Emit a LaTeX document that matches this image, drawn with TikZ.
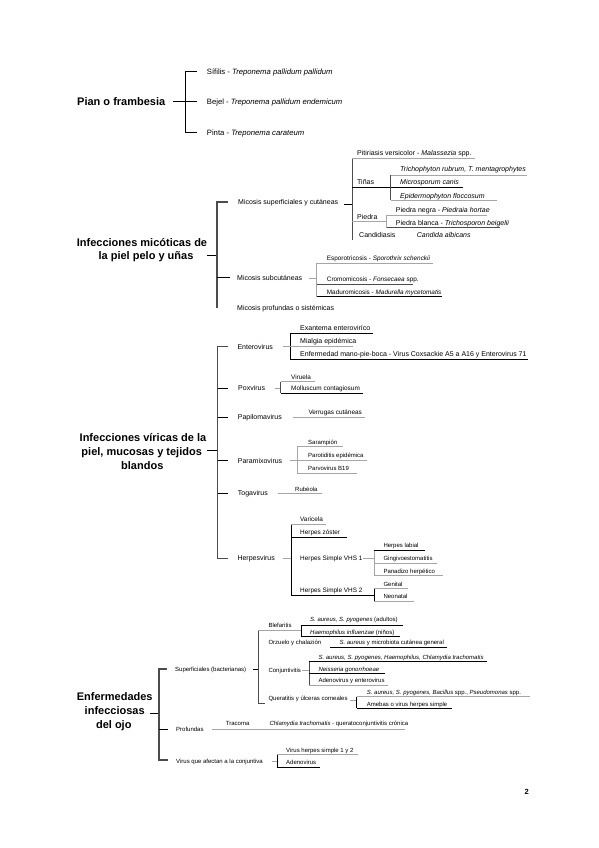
\documentclass[tikz,border=0pt]{standalone}
\usepackage{fontspec}
\setmainfont{Liberation Sans}
\begin{document}
\begin{tikzpicture}[x=1pt,y=-1pt]
\tikzset{
 ttl/.style={inner sep=0pt, anchor=base, font=\bfseries\fontsize{11}{13}\selectfont},
 ta/.style={inner sep=0pt, anchor=base west, font=\fontsize{7.7}{9}\selectfont},
 tb/.style={inner sep=0pt, anchor=base west, font=\fontsize{7.0}{8}\selectfont},
 tc/.style={inner sep=0pt, anchor=base west, font=\fontsize{6.4}{8}\selectfont},
 td/.style={inner sep=0pt, anchor=base west, font=\fontsize{6.0}{7}\selectfont},
 bar/.style={draw=black!70, line width=1.1pt},
 dk/.style={draw=black, line width=0.9pt},
 md/.style={draw=black!70, line width=0.6pt},
 lt/.style={draw=black!35, line width=0.5pt}
}
\fill[white] (0,0) rectangle (599,848);
\useasboundingbox (0,0) rectangle (599,848);

% ---------------- Pian
\node[ttl, anchor=base west] (pian) at (77,105.7) {Pian o frambesia};
\draw[dk] (173,101.7) -- (196.7,101.7);
\draw[dk] (196.7,71.7) -- (185.7,71.7) -- (185.7,132.7) -- (196.7,132.7);
\node[ta] (sif) at (206.7,74.4) {Sífilis - \textit{Treponema pallidum pallidum}};
\node[ta] (bej) at (206.7,104.4) {Bejel - \textit{Treponema pallidum endemicum}};
\node[ta] (pin) at (206.7,135.4) {Pinta - \textit{Treponema carateum}};

% ---------------- Micoticas
\node[ttl] (mic1) at (142,246.5) {Infecciones micóticas de};
\node[ttl] (mic2) at (146,259.5) {la piel pelo y uñas};
\draw[dk] (207,255) -- (217,255);
\draw[bar] (228,202) -- (217,202) -- (217,307.5);
\draw[dk] (217,277.5) -- (230,277.5);
\node[tb] (msup) at (238,204.4) {Micosis superficiales y cutáneas};
\draw[dk] (344,204) -- (352,204);
\draw[md] (352,158) -- (352,240);
\draw[lt] (352,158) -- (475,158);
\node[tb] (pit) at (357,155.5) {Pitiriasis versicolor - \textit{Malassezia} spp.};
\node[tb] (tin) at (357,184.2) {Tiñas};
\draw[dk] (352,187.7) -- (463,187.7);
\draw[md] (390.7,175) -- (390.7,200);
\node[tb] (tri) at (400,171) {\textit{Trichophyton rubrum, T. mentagrophytes}};
\draw[lt] (390.7,175) -- (526.7,175);
\node[tb] (msp) at (400,184.8) {\textit{Microsporum canis}};
\node[tb] (epi) at (400,198) {\textit{Epidermophyton floccosum}};
\draw[lt] (390.7,200) -- (497,200);
\node[tb] (pie) at (357,219) {Piedra};
\draw[lt] (352,221.5) -- (386.7,221.5);
\draw[lt] (386.7,215) -- (386.7,227.7);
\node[tb] (pneg) at (395.7,212.5) {Piedra negra - \textit{Piedraia hortae}};
\draw[lt] (386.7,215) -- (486.7,215);
\node[tb] (pbla) at (395.7,225.2) {Piedra blanca - \textit{Trichosporon beigelii}};
\draw[md] (386.7,227.7) -- (500,227.7);
\node[tb] (can) at (359,237.5) {Candidiasis};
\node[tb] (cal) at (416.7,237.5) {\textit{Candida albicans}};
\node[tb] (msub) at (237,280) {Micosis subcutáneas};
\draw[lt] (309,278) -- (316.7,278);
\draw[lt] (316.7,263.3) -- (316.7,296.7);
\node[tc] (esp) at (326.7,260.8) {Esporotricosis - \textit{Sporothrix schenckii}};
\draw[lt] (316.7,263.3) -- (433.3,263.3);
\node[tc] (cro) at (326.7,281.4) {Cromomicosis - \textit{Fonsecaea} spp.};
\draw[md] (316.7,284) -- (413,284);
\node[tc] (mad) at (326.7,294) {Maduromicosis - \textit{Madurella mycetomatis}};
\draw[dk] (316.7,296.7) -- (441.7,296.7);
\node[tb] (mpro) at (237,310.5) {Micosis profundas o sistémicas};

% ---------------- Viricas
\node[ttl] (vir1) at (143,441.7) {Infecciones víricas de la};
\node[ttl] (vir2) at (141.7,455.5) {piel, mucosas y tejidos};
\node[ttl] (vir3) at (142.3,469.3) {blandos};
\draw[dk] (206.7,450) -- (217.7,450);
\draw[bar] (228.3,346.7) -- (217.7,346.7) -- (217.7,558.3) -- (228.3,558.3);
\foreach \yy in {388.3,417,460.5,493.3} \draw[dk] (217.7,\yy) -- (228.3,\yy);
% Enterovirus
\node[tb] (ent) at (237.3,349.2) {Enterovirus};
\draw[lt] (283,346.7) -- (290,346.7);
\draw[dk] (290,333.3) -- (290,359);
\node[tb] (exa) at (300,330.2) {Exantema enteroviríco};
\draw[dk] (290,333.3) -- (373.3,333.3);
\node[tb] (mia) at (300,343) {Mialgia epidémica};
\draw[lt] (290,346.7) -- (353.3,346.7);
\node[tb] (mpb) at (300,356.5) {Enfermedad mano-pie-boca - Virus Coxsackie A5 a A16 y Enterovirus 71};
\draw[dk] (290,359) -- (528.3,359);
% Poxvirus
\node[tb] (pox) at (238,390.8) {Poxvirus};
\draw[lt] (275,388.3) -- (280.7,388.3);
\draw[md] (280.7,381.7) -- (280.7,393.3);
\node[tc] (vrl) at (291,379) {Viruela};
\draw[lt] (280.7,381.7) -- (315,381.7);
\node[tc] (mol) at (291,390.6) {Molluscum contagiosum};
\draw[dk] (280.7,393.3) -- (363.3,393.3);
% Papilomavirus
\node[tb] (pap) at (237.7,419.5) {Papilomavirus};
\draw[lt] (293.3,417.3) -- (365,417.3);
\node[tc] (ver) at (308.3,414.6) {Verrugas cutáneas};
% Paramixovirus
\node[tb] (par) at (237.7,463) {Paramixovirus};
\draw[lt] (290,460.5) -- (297.3,460.5);
\draw[lt] (297.3,446.7) -- (297.3,473.3);
\node[td] (sar) at (308,444.6) {Sarampión};
\draw[lt] (297.3,446.7) -- (343.3,446.7);
\node[td] (pep) at (308,457.6) {Parotiditis epidémica};
\draw[lt] (297.3,460.5) -- (366.7,460.5);
\node[td] (pvb) at (308,470.6) {Parvovirus B19};
\draw[lt] (297.3,473.3) -- (356.7,473.3);
% Togavirus
\node[tb] (tog) at (237.7,495.8) {Togavirus};
\draw[lt] (278.3,493.3) -- (321.7,493.3);
\node[td] (rub) at (295,491) {Rubéola};
% Herpesvirus
\node[tb] (her) at (237.3,560.8) {Herpesvirus};
\draw[lt] (283,558.3) -- (291,558.3);
\draw[dk] (291,524) -- (291,595) -- (374,595);
\node[tc] (var) at (300,521.3) {Varicela};
\draw[lt] (291,524) -- (326,524);
\node[tc] (hzo) at (300,534.6) {Herpes zóster};
\draw[dk] (291,537.3) -- (346.7,537.3);
\node[tc] (vh1) at (300,560.6) {Herpes Simple VHS 1};
\draw[lt] (363,558.3) -- (374,558.3);
\draw[lt] (374,550) -- (374,575.7);
\node[td] (hla) at (383.3,547.4) {Herpes labial};
\draw[dk] (374,550) -- (425,550);
\node[td] (gin) at (383.3,560.6) {Gingivoestomatitis};
\draw[lt] (374,563.3) -- (437,563.3);
\node[td] (pan) at (383.3,573.2) {Panadizo herpético};
\draw[lt] (374,575.7) -- (443.3,575.7);
\node[tc] (vh2) at (300,592.4) {Herpes Simple VHS 2};
\draw[dk] (374,588.3) -- (374,601);
\node[td] (gen) at (383.3,586) {Genital};
\draw[lt] (374,588.3) -- (408.3,588.3);
\node[td] (neo) at (383.3,598.4) {Neonatal};
\draw[lt] (374,601) -- (414,601);

% ---------------- Ojo
\node[ttl] (ojo1) at (114.7,700.7) {Enfermedades};
\node[ttl] (ojo2) at (114.7,714.7) {infecciosas};
\node[ttl] (ojo3) at (113.8,728.5) {del ojo};
\draw[dk] (150,713.3) -- (159,713.3);
\draw[bar] (166.7,669) -- (159,669) -- (159,760) -- (168,760);
\draw[dk] (159,729) -- (168,729);
\node[td] (sup) at (175,671.2) {Superficiales (bacterianas)};
\draw[dk] (253,669) -- (258.3,669);
\draw[md] (258.3,630) -- (258.3,703.3) -- (265,703.3);
% Blefaritis
\node[td] (ble) at (268.3,627.2) {Blefaritis};
\draw[lt] (258.3,630) -- (301.7,630);
\draw[dk] (301.7,625) -- (301.7,636.7);
\node[td] (bl1) at (310,621.6) {\textit{S. aureus, S. pyogenes} (adultos)};
\draw[dk] (301.7,625) -- (403.3,625);
\node[td] (bl2) at (310,634) {\textit{Haemophilus influenzae} (niños)};
\draw[dk] (301.7,636.7) -- (400,636.7);
% Orzuelo
\node[td] (orz) at (268.3,644.6) {Orzuelo y chalazión};
\node[td] (or1) at (339.3,644.6) {\textit{S. aureus} y microbiota cutánea general};
\draw[dk] (330,647.5) -- (446.7,647.5);
% Conjuntivitis
\node[td] (con) at (268.3,672.5) {Conjuntivitis};
\draw[lt] (302,670.3) -- (309,670.3);
\draw[md] (309,661.3) -- (309,685);
\node[td] (co1) at (318.3,659.2) {\textit{S. aureus, S. pyogenes, Haemophilus, Chlamydia trachomatis}};
\draw[dk] (309,661.3) -- (486.7,661.3);
\node[td] (co2) at (318.3,671.4) {\textit{Neisseria gonorrhoeae}};
\draw[dk] (309,673.7) -- (385,673.7);
\node[td] (co3) at (318.3,682.8) {Adenovirus y enterovirus};
\draw[lt] (309,685) -- (388.3,685);
% Queratitis
\node[td] (que) at (268.3,700.6) {Queratitis y úlceras corneales};
\draw[lt] (350,700) -- (356.7,700);
\draw[dk] (356.7,696.7) -- (356.7,708.3);
\node[td] (qu1) at (366.7,694.5) {\textit{S. aureus, S. pyogenes, Bacillus} spp., \textit{Pseudomonas} spp.};
\draw[lt] (356.7,696.7) -- (530,696.7);
\node[td] (qu2) at (366.7,706.2) {Amebas o virus herpes simple};
\draw[dk] (356.7,708.3) -- (451.7,708.3);
% Profundas
\node[td] (pro) at (176,731.3) {Profundas};
\draw[lt] (211.7,729) -- (405,729);
\node[td] (tra) at (225.7,725.6) {Tracoma};
\node[td] (ch1) at (269.3,725.6) {\textit{Chlamydia trachomatis} - queratoconjuntivitis crónica};
% Virus conjuntiva
\node[td] (vco) at (176,763.3) {Virus que afectan a la conjuntiva};
\draw[lt] (271.7,761) -- (277.3,761);
\draw[dk] (277.3,754) -- (277.3,767.3);
\node[td] (vhs) at (286,752) {Virus herpes simple 1 y 2};
\draw[lt] (277.3,754) -- (358.3,754);
\node[td] (ade) at (286,764.8) {Adenovirus};
\draw[dk] (277.3,767.3) -- (320,767.3);

% page number
\node[inner sep=0pt, font=\bfseries\fontsize{7.5}{9}\selectfont] (pg) at (526.7,791.7) {2};
\end{tikzpicture}
\end{document}
